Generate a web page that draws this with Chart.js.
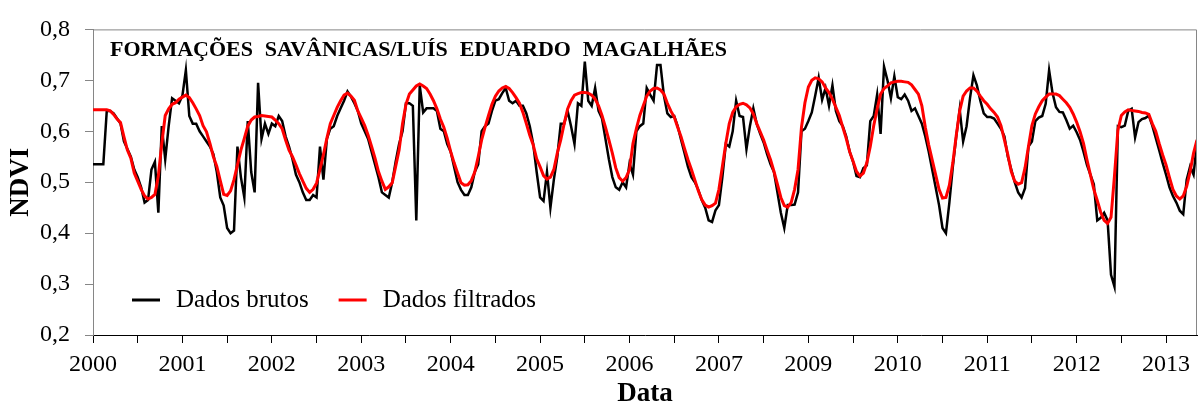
<!DOCTYPE html>
<html>
<head>
<meta charset="utf-8">
<script src="https://cdn.jsdelivr.net/npm/chart.js@4.4.1/dist/chart.umd.min.js"></script>
<style>
   html, body { margin: 0; padding: 0; background: #fff; }
   canvas { display: block; }
</style>
</head>
<body>
<canvas id="chart" width="1200" height="409"></canvas>
<script>
const chartTitle = 'FORMAÇÕES SAVÂNICAS/LUÍS EDUARDO MAGALHÃES'
const seriesNames = [ 'Dados brutos', 'Dados filtrados' ]

// x axis is a plain category count: a label every 26 samples, a tick every 13
// (the source sheet really jumps from 2007 to 2009)
const xLabels = [ '2000', '2001', '2002', '2003', '2004', '2005', '2006', '2007', '2009', '2010', '2011', '2012', '2013' ]
const labelEvery = 26
const tickEvery = 13

const rawNdvi = [
   0.535, 0.535, 0.535, 0.535, 0.64, 0.64, 0.635, 0.625, 0.615, 0.58,
   0.565, 0.55, 0.525, 0.51, 0.49, 0.46, 0.465, 0.525, 0.54, 0.44,
   0.61, 0.545, 0.61, 0.665, 0.66, 0.655, 0.67, 0.72, 0.63, 0.615,
   0.615, 0.6, 0.59, 0.58, 0.57, 0.555, 0.52, 0.47, 0.454, 0.41,
   0.4, 0.405, 0.57, 0.51, 0.47, 0.62, 0.52, 0.48, 0.695, 0.585,
   0.615, 0.595, 0.615, 0.61, 0.63, 0.62, 0.59, 0.57, 0.545, 0.515,
   0.5, 0.48, 0.465, 0.465, 0.475, 0.47, 0.57, 0.505, 0.585, 0.605,
   0.61, 0.63, 0.645, 0.66, 0.678, 0.668, 0.655, 0.64, 0.615, 0.6,
   0.585, 0.56, 0.535, 0.51, 0.48, 0.475, 0.47, 0.5, 0.54, 0.575,
   0.6, 0.655, 0.655, 0.65, 0.425, 0.69, 0.637, 0.645, 0.645, 0.645,
   0.64, 0.605, 0.6, 0.575, 0.56, 0.53, 0.5, 0.485, 0.475, 0.475,
   0.49, 0.52, 0.535, 0.6, 0.61, 0.615, 0.64, 0.66, 0.663, 0.675,
   0.685, 0.66, 0.655, 0.66, 0.65, 0.65, 0.635, 0.61, 0.575, 0.52,
   0.47, 0.463, 0.52, 0.45, 0.505, 0.55, 0.615, 0.615, 0.64, 0.61,
   0.575, 0.655, 0.65, 0.737, 0.66, 0.65, 0.685, 0.64, 0.625, 0.585,
   0.545, 0.51, 0.49, 0.485, 0.5, 0.49, 0.537, 0.515, 0.6, 0.61,
   0.615, 0.685, 0.672, 0.66, 0.73, 0.73, 0.67, 0.635, 0.628, 0.63,
   0.61, 0.583, 0.557, 0.53, 0.51, 0.5, 0.485, 0.465, 0.45, 0.425,
   0.422, 0.445, 0.455, 0.51, 0.575, 0.57, 0.6, 0.66, 0.63, 0.628,
   0.565, 0.61, 0.645, 0.614, 0.595, 0.578, 0.555, 0.535, 0.52, 0.48,
   0.44, 0.41, 0.455, 0.455, 0.456, 0.48, 0.6, 0.605, 0.62, 0.637,
   0.67, 0.705, 0.662, 0.685, 0.65, 0.69, 0.64, 0.62, 0.61, 0.59,
   0.56, 0.54, 0.512, 0.51, 0.528, 0.533, 0.62, 0.63, 0.672, 0.595,
   0.727, 0.7, 0.665, 0.708, 0.667, 0.663, 0.672, 0.66, 0.64, 0.645,
   0.63, 0.615, 0.59, 0.56, 0.525, 0.49, 0.455, 0.41, 0.4, 0.46,
   0.53, 0.59, 0.643, 0.58, 0.61, 0.665, 0.71, 0.69, 0.66, 0.635,
   0.628, 0.628, 0.625, 0.615, 0.605, 0.59, 0.55, 0.525, 0.5, 0.48,
   0.47, 0.488, 0.57, 0.58, 0.62, 0.627, 0.63, 0.654, 0.72, 0.675,
   0.647, 0.638, 0.637, 0.622, 0.605, 0.611, 0.598, 0.583, 0.56, 0.534,
   0.515, 0.496, 0.425, 0.43, 0.44, 0.425, 0.318, 0.295, 0.61, 0.608,
   0.611, 0.64, 0.644, 0.588, 0.618, 0.624, 0.626, 0.631, 0.611, 0.587,
   0.563, 0.538, 0.515, 0.49, 0.473, 0.46, 0.444, 0.437, 0.505, 0.531,
   0.515, 0.578,
]

const filteredNdvi = [
   0.642, 0.642, 0.642, 0.642, 0.642, 0.64, 0.633, 0.624, 0.617, 0.589,
   0.563, 0.547, 0.518, 0.502, 0.486, 0.473, 0.467, 0.47, 0.476, 0.512,
   0.576, 0.631, 0.644, 0.653, 0.656, 0.663, 0.667, 0.671, 0.666, 0.656,
   0.644, 0.631, 0.611, 0.599, 0.576, 0.55, 0.531, 0.503, 0.476, 0.474,
   0.483, 0.505, 0.534, 0.563, 0.586, 0.61, 0.622, 0.628, 0.629, 0.631,
   0.63, 0.629, 0.628, 0.622, 0.615, 0.605, 0.583, 0.563, 0.55, 0.534,
   0.517, 0.502, 0.488, 0.48, 0.486, 0.498, 0.525, 0.554, 0.586, 0.615,
   0.631, 0.647, 0.66, 0.671, 0.675, 0.669, 0.661, 0.64, 0.626, 0.611,
   0.592, 0.57, 0.547, 0.521, 0.502, 0.486, 0.491, 0.499, 0.531, 0.563,
   0.615, 0.653, 0.673, 0.681, 0.689, 0.693, 0.689, 0.684, 0.673, 0.66,
   0.644, 0.624, 0.608, 0.586, 0.56, 0.538, 0.518, 0.499, 0.494, 0.495,
   0.503, 0.52, 0.55, 0.583, 0.608, 0.631, 0.653, 0.669, 0.679, 0.685,
   0.688, 0.684, 0.676, 0.666, 0.655, 0.637, 0.615, 0.592, 0.573, 0.546,
   0.53, 0.513, 0.506, 0.51, 0.525, 0.557, 0.583, 0.615, 0.644, 0.66,
   0.671, 0.674, 0.676, 0.676, 0.675, 0.671, 0.663, 0.65, 0.631, 0.608,
   0.583, 0.557, 0.528, 0.509, 0.502, 0.509, 0.525, 0.576, 0.605, 0.631,
   0.65, 0.669, 0.679, 0.684, 0.685, 0.681, 0.673, 0.655, 0.64, 0.628,
   0.608, 0.589, 0.566, 0.544, 0.525, 0.504, 0.483, 0.466, 0.455, 0.451,
   0.454, 0.459, 0.486, 0.531, 0.576, 0.615, 0.637, 0.648, 0.653, 0.655,
   0.652, 0.646, 0.634, 0.615, 0.599, 0.583, 0.563, 0.544, 0.521, 0.496,
   0.47, 0.454, 0.451, 0.46, 0.486, 0.525, 0.608, 0.656, 0.687, 0.7,
   0.705, 0.703, 0.697, 0.685, 0.676, 0.663, 0.647, 0.631, 0.608, 0.586,
   0.56, 0.541, 0.521, 0.512, 0.518, 0.538, 0.57, 0.611, 0.644, 0.673,
   0.684, 0.689, 0.695, 0.697, 0.698, 0.698, 0.697, 0.696, 0.691, 0.682,
   0.673, 0.65, 0.608, 0.573, 0.544, 0.515, 0.486, 0.469, 0.47, 0.494,
   0.538, 0.592, 0.64, 0.669, 0.679, 0.685, 0.685, 0.679, 0.669, 0.66,
   0.653, 0.644, 0.637, 0.628, 0.611, 0.583, 0.554, 0.521, 0.502, 0.496,
   0.499, 0.528, 0.57, 0.611, 0.634, 0.648, 0.66, 0.667, 0.673, 0.673,
   0.673, 0.67, 0.663, 0.656, 0.647, 0.634, 0.618, 0.599, 0.576, 0.544,
   0.515, 0.486, 0.464, 0.441, 0.425, 0.419, 0.431, 0.512, 0.602, 0.631,
   0.638, 0.642, 0.641, 0.64, 0.639, 0.637, 0.636, 0.633, 0.615, 0.6,
   0.576, 0.554, 0.534, 0.509, 0.486, 0.473, 0.467, 0.473, 0.492, 0.521,
   0.557, 0.583,
]

const SERIF = '"Liberation Serif", "Times New Roman", serif'
const GREY = '#868686'

Chart.defaults.font.family = SERIF
Chart.defaults.color = '#000'

const toPoints = ( values ) => values.map( ( v, i ) => ( { x: i, y: v } ) )

// frame, in-plot title and in-plot legend
const decor = {
   id: 'ndvi_decor',
   afterDraw( chart ) {
      const { ctx, chartArea: area } = chart
      ctx.save()

      ctx.strokeStyle = GREY
      ctx.lineWidth = 1
      ctx.beginPath()
      ctx.moveTo( area.left, area.top + 0.5 )
      ctx.lineTo( area.right - 0.5, area.top + 0.5 )
      ctx.lineTo( area.right - 0.5, area.bottom )
      ctx.stroke()

      ctx.fillStyle = '#000'
      ctx.textBaseline = 'middle'
      ctx.textAlign = 'left'

      // title words are spread a little in the original
      ctx.font = `bold 22px ${SERIF}`
      const words = chartTitle.split( ' ' )
      const widths = words.map( ( w ) => ctx.measureText( w ).width )
      const total = widths.reduce( ( a, b ) => a + b, 0 )
      const gap = Math.max( 8, ( 617 - total ) / ( words.length - 1 ) )
      let tx = area.left + 17
      words.forEach( ( w, i ) => {
         ctx.fillText( w, tx, area.top + 21 )
         tx += widths[ i ] + gap
      } )

      ctx.font = `25px ${SERIF}`
      const ly = area.bottom - 35
      let lx = area.left + 39
      chart.data.datasets.forEach( ( ds ) => {
         ctx.strokeStyle = ds.borderColor
         ctx.lineWidth = 3
         ctx.beginPath()
         ctx.moveTo( lx, ly )
         ctx.lineTo( lx + 28, ly )
         ctx.stroke()
         ctx.fillText( ds.label, lx + 44, ly )
         lx += 44 + ctx.measureText( ds.label ).width + 30
      } )

      ctx.restore()
   },
}

new Chart( document.getElementById( 'chart' ), {
   type: 'line',
   data: {
      datasets: [
         {
            label: seriesNames[ 0 ],
            data: toPoints( rawNdvi ),
            borderColor: '#000000',
            borderWidth: 2.5,
            pointRadius: 0,
            tension: 0,
            order: 1,
         },
         {
            label: seriesNames[ 1 ],
            data: toPoints( filteredNdvi ),
            borderColor: '#ff0000',
            borderWidth: 3,
            pointRadius: 0,
            tension: 0,
            order: 0,
         },
      ],
   },
   plugins: [ decor ],
   options: {
      responsive: false,
      devicePixelRatio: 1,
      animation: false,
      layout: {
         padding: { left: 0, top: 24, right: 3, bottom: 0 },
      },
      plugins: {
         legend: { display: false },
         tooltip: { enabled: false },
         title: { display: false },
      },
      scales: {
         x: {
            type: 'linear',
            min: 0,
            max: rawNdvi.length - 1,
            afterFit( scale ) {
               scale.height = 74
            },
            afterBuildTicks( scale ) {
               const ticks = []
               for ( let v = 0; v <= scale.max; v += tickEvery ) {
                  ticks.push( { value: v } )
               }
               scale.ticks = ticks
            },
            ticks: {
               autoSkip: false,
               maxRotation: 0,
               padding: 7,
               font: { size: 24 },
               callback: ( value ) => ( value % labelEvery === 0 ? xLabels[ value / labelEvery ] : '' ),
            },
            grid: {
               drawOnChartArea: false,
               drawTicks: true,
               tickLength: 8,
               color: '#000',
            },
            border: { color: '#000', width: 1 },
            title: {
               display: true,
               text: 'Data',
               font: { size: 27, weight: 'bold' },
               padding: { top: 0, bottom: -1 },
            },
         },
         y: {
            min: 0.2,
            max: 0.8,
            afterFit( scale ) {
               scale.width = 93
            },
            ticks: {
               stepSize: 0.1,
               padding: 15,
               font: { size: 24 },
               callback: ( value ) => value.toFixed( 1 ).replace( '.', ',' ),
            },
            grid: {
               drawOnChartArea: false,
               drawTicks: true,
               tickLength: 8,
               color: GREY,
            },
            border: { color: GREY, width: 1 },
            title: {
               display: true,
               text: 'NDVI',
               font: { size: 27, weight: 'bold' },
               padding: { top: 5, bottom: 0 },
            },
         },
      },
   },
} )
</script>
</body>
</html>
